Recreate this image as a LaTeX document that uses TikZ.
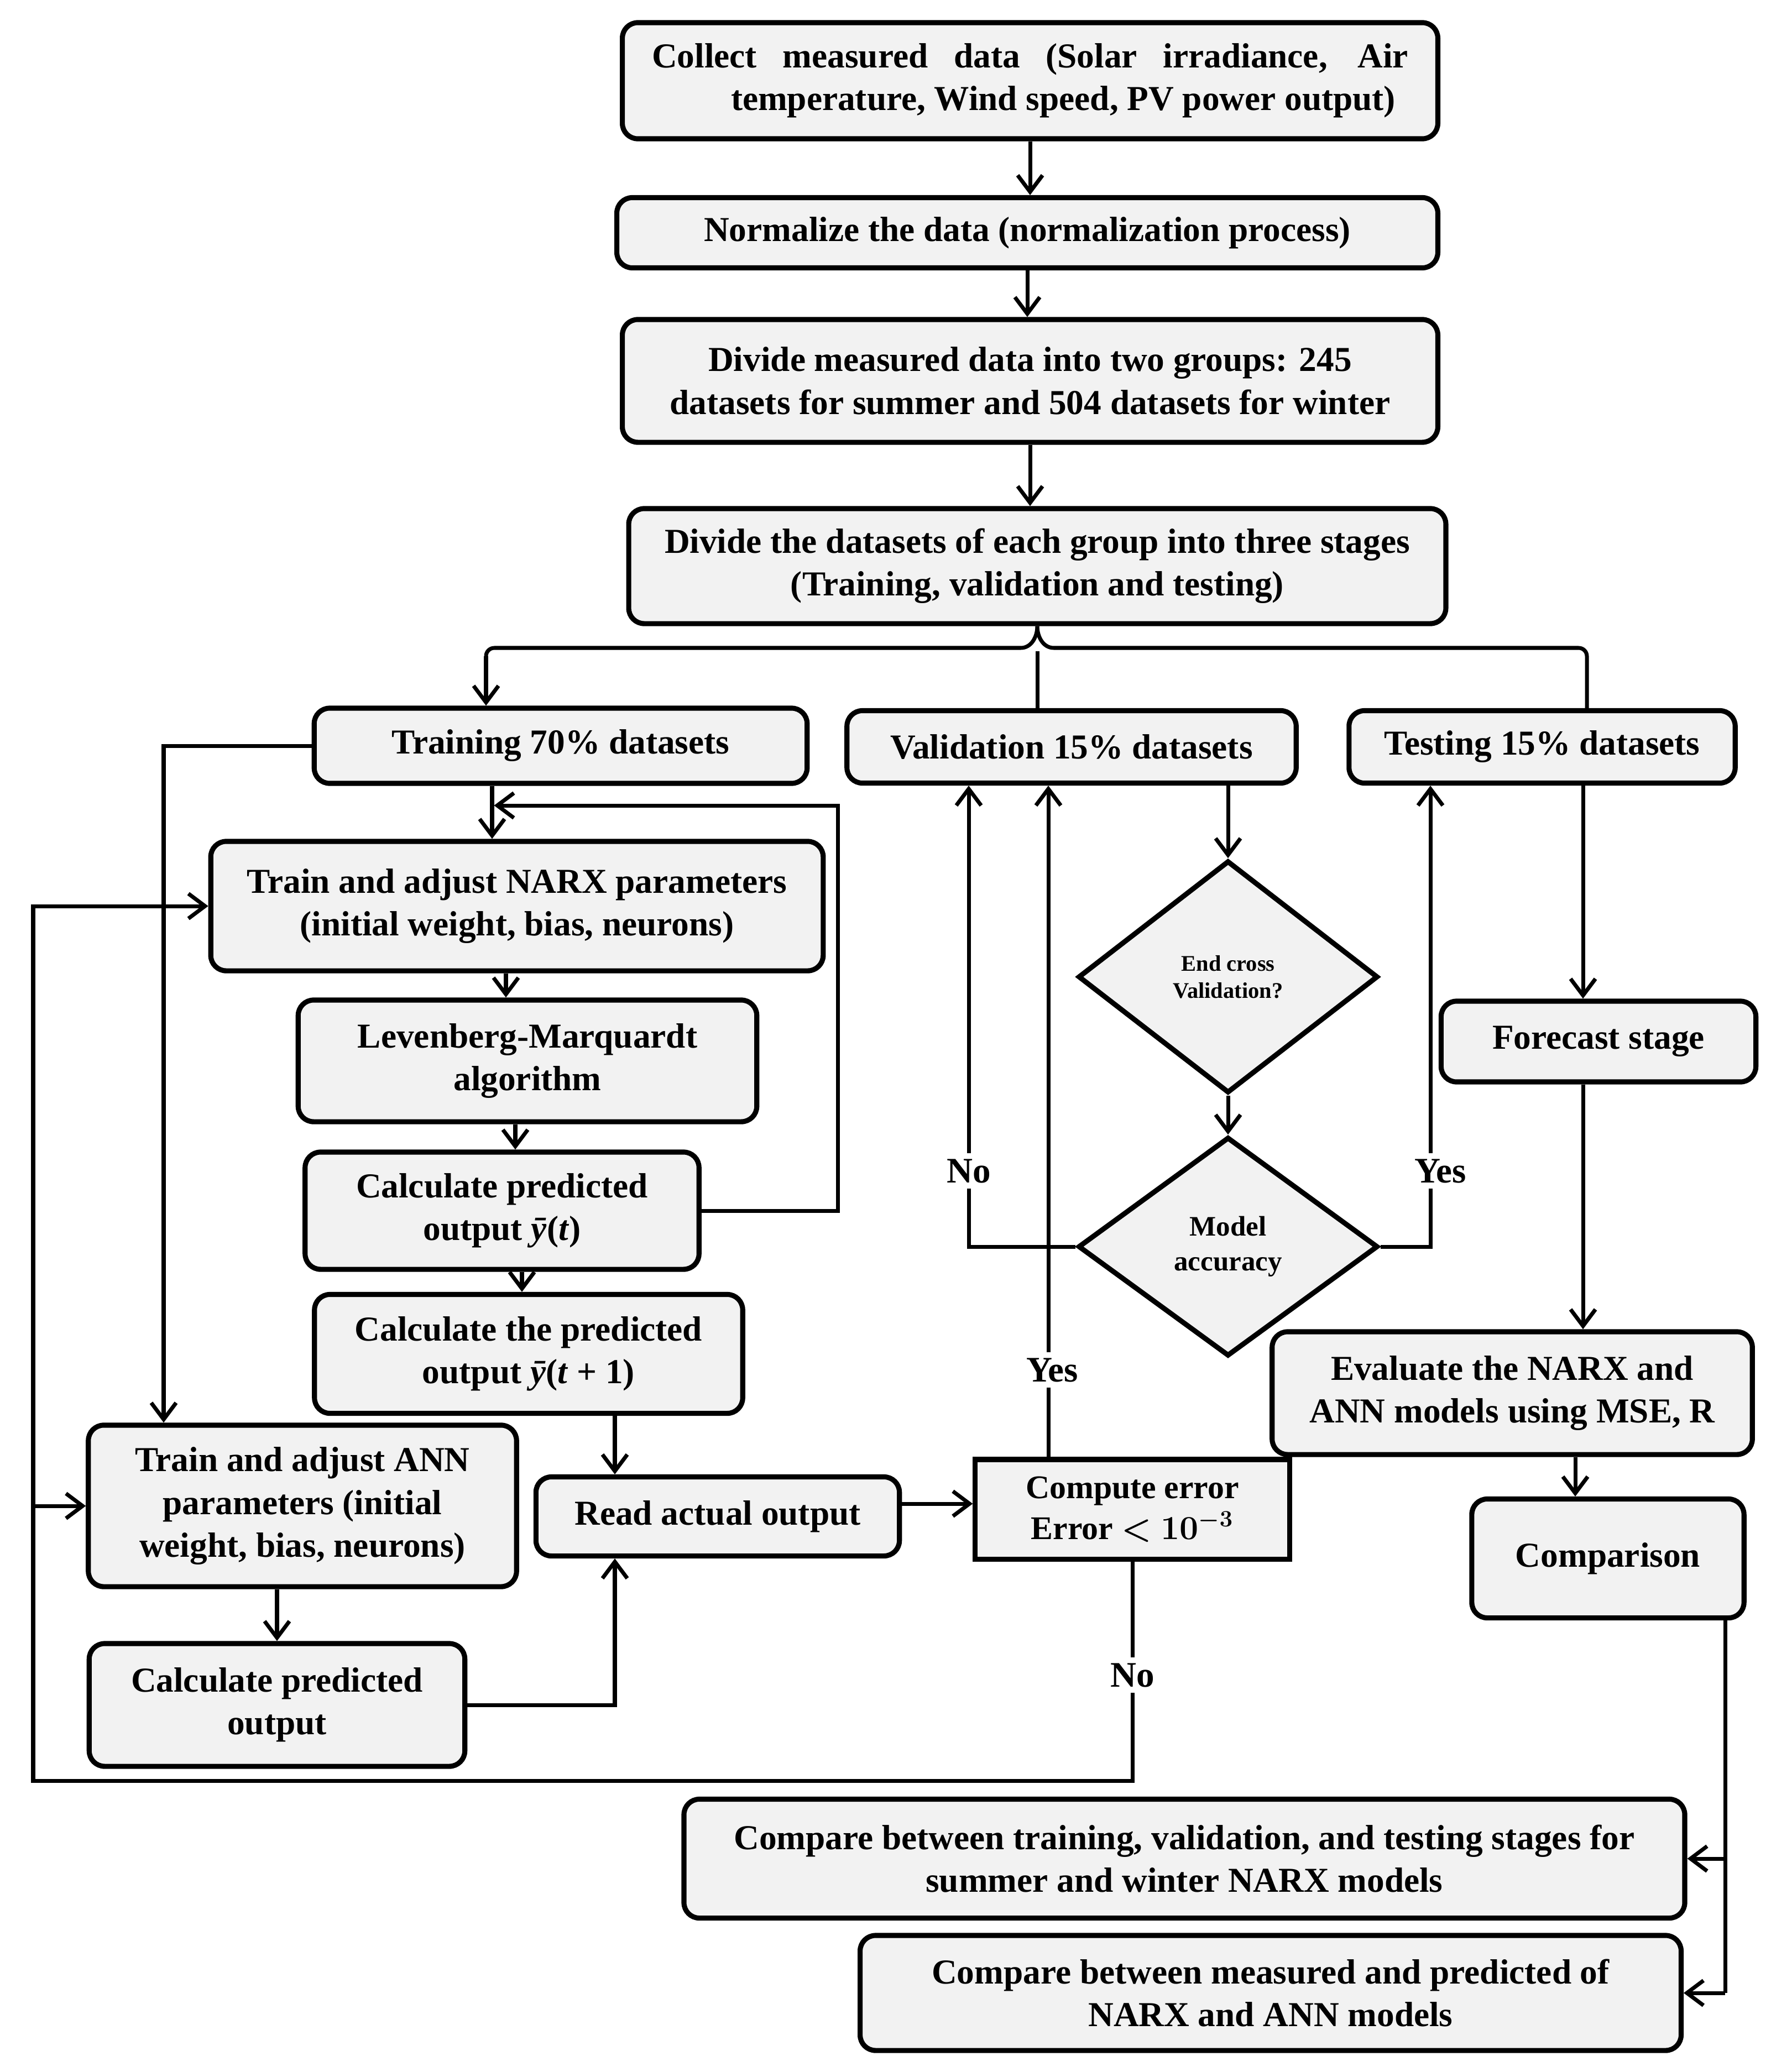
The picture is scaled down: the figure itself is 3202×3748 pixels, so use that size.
\documentclass[tikz,border=0pt]{standalone}
\usepackage{fontspec}
\setmainfont{Liberation Serif}
\usepackage{amsmath,bm}
\usetikzlibrary{shapes.geometric,arrows.meta,calc}
\definecolor{boxgray}{HTML}{F2F2F2}
\begin{document}
\begin{tikzpicture}[x=0.01cm,y=-0.01cm,
  box/.style={draw, line width=2.6pt, rounded corners=0.28cm, fill=boxgray, align=center, inner sep=2pt,
    font=\fontsize{18}{22}\selectfont\bfseries},
  sqbox/.style={box, rounded corners=0pt, font=\fontsize{17}{21}\selectfont\bfseries},
  dia/.style={draw, diamond, line width=2.6pt, fill=boxgray, align=center, inner sep=0pt},
  conn/.style={line width=2pt},
  arr/.style={conn, -{Straight Barb[length=0.3cm,width=0.45cm]}},
  lbl/.style={fill=white, inner sep=3pt, font=\fontsize{18.5}{22}\selectfont\bfseries}]
\useasboundingbox (0,0) rectangle (3202,3748);

% nodes
\node[box,minimum width=14.74cm,minimum height=2.10cm] (collect) at (1863,146)
  {\makebox[13.67cm][s]{Collect measured data (Solar irradiance, Air}\\\hspace*{1.2cm}temperature, Wind speed, PV power output)};
\node[box,minimum width=14.84cm,minimum height=1.27cm] (norm) at (1858,421) {Normalize the data (normalization process)};
\node[box,minimum width=14.74cm,minimum height=2.22cm] (divm) at (1863,689)
  {Divide measured data into two groups: 245\\datasets for summer and 504 datasets for winter};
\node[box,minimum width=14.77cm,minimum height=2.08cm] (divd) at (1876,1024)
  {Divide the datasets of each group into three stages\\(Training, validation and testing)};
\node[box,minimum width=8.91cm,minimum height=1.36cm] (train) at (1014,1349) {Training 70\% datasets};
\node[box,minimum width=8.12cm,minimum height=1.31cm] (valid) at (1938,1351) {Validation 15\% datasets};
\node[box,minimum width=6.98cm,minimum height=1.31cm] (test) at (2789,1351) {Testing 15\% datasets};
\node[box,minimum width=11.07cm,minimum height=2.34cm] (narx) at (935,1639)
  {Train and adjust NARX parameters\\(initial weight, bias, neurons)};
\node[box,minimum width=8.29cm,minimum height=2.20cm] (lm) at (954,1919) {Levenberg-Marquardt\\algorithm};
\node[box,minimum width=7.12cm,minimum height=2.12cm] (yt) at (908,2190) {Calculate predicted\\output \textit{ȳ}(\textit{t})};
\node[box,minimum width=7.74cm,minimum height=2.15cm] (yt1) at (956,2449) {Calculate the predicted\\output \textit{ȳ}(\textit{t} + 1)};
\node[box,minimum width=7.74cm,minimum height=2.92cm] (ann) at (547,2724)
  {Train and adjust ANN\\parameters (initial\\weight, bias, neurons)};
\node[box,minimum width=6.79cm,minimum height=2.22cm] (cpo) at (501,3084) {Calculate predicted\\output};
\node[box,minimum width=6.57cm,minimum height=1.43cm] (read) at (1298,2743) {Read actual output};
\node[sqbox,minimum width=5.68cm,minimum height=1.80cm] (err) at (2048,2730) {Compute error\\Error $\bm{<10^{-3}}$};
\node[dia,minimum width=5.42cm,minimum height=4.20cm,aspect=1.29,font=\fontsize{11.5}{14}\selectfont\bfseries] (endcv) at (2221,1767) {End cross\\Validation?};
\node[dia,minimum width=5.42cm,minimum height=3.96cm,aspect=1.37,font=\fontsize{14.5}{18}\selectfont\bfseries] (acc) at (2221,2255) {Model\\accuracy};
\node[box,minimum width=5.69cm,minimum height=1.46cm] (fore) at (2891,1884) {Forecast stage};
\node[box,minimum width=8.68cm,minimum height=2.22cm] (eval) at (2735,2520) {Evaluate the NARX and\\ANN models using MSE, R};
\node[box,minimum width=4.92cm,minimum height=2.15cm] (comp) at (2908,2819) {Comparison};
\node[box,minimum width=18.09cm,minimum height=2.15cm] (cmpt) at (2142,3362)
  {Compare between training, validation, and testing stages for\\summer and winter NARX models};
\node[box,minimum width=14.84cm,minimum height=2.08cm] (cmpm) at (2298,3605)
  {Compare between measured and predicted of\\NARX and ANN models};

% helper coordinates
\coordinate (bl) at (879,1187);
\coordinate (bc) at (1876,1178);
\coordinate (br) at (2870,1187);
\coordinate (xTN) at (890,0);
\coordinate (fb) at (1515,1457);
\coordinate (xNL) at (915,0);
\coordinate (xLY) at (932,0);
\coordinate (xYY) at (944,0);
\coordinate (xYR) at (1112,0);
\coordinate (yRE) at (0,2720);
\coordinate (xEV) at (1896,0);
\coordinate (xNo) at (1752,0);
\coordinate (xYes) at (2587,0);
\coordinate (xTF) at (2863,0);
\coordinate (xEC) at (2849,0);
\coordinate (xCB) at (3120,0);
\coordinate (xTL) at (296,0);
\coordinate (xL) at (60,0);
\coordinate (yB) at (0,3221);

% top chain
\draw[arr] (collect.south) -- (collect.south |- norm.north);
\draw[arr] (norm.south) -- (norm.south |- divm.north);
\draw[arr] (divm.south) -- (divm.south |- divd.north);

% brace
\draw[conn] (divd.south) to[out=-90,in=0] (1846,1172) -- (894,1172) to[out=180,in=90] (bl);
\draw[arr] (bl) -- (bl |- train.north);
\draw[conn] (bc) -- (bc |- valid.north);
\draw[conn] (divd.south) to[out=-90,in=180] (1906,1172) -- (2855,1172) to[out=0,in=90] (br) -- (br |- test.north);

% NARX chain
\draw[arr] (train.south -| xTN) -- (narx.north -| xTN);
\draw[arr, shorten >=1pt] (yt.east) -| (fb) -- (fb -| xTN);
\draw[arr] (narx.south -| xNL) -- (lm.north -| xNL);
\draw[arr] (lm.south -| xLY) -- (yt.north -| xLY);
\draw[arr] (yt.south -| xYY) -- (yt1.north -| xYY);
\draw[arr] (yt1.south -| xYR) -- (read.north -| xYR);

% ANN chain
\draw[arr] (train.west) -| (ann.north -| xTL);
\draw[arr] (ann.south -| cpo.north) -- (cpo.north);
\draw[arr] (cpo.east) -| (read.south -| xYR);
\draw[arr] (read.east |- yRE) -- (err.west |- yRE);

% error loop
\draw[arr] (err.south) -- (err.south |- yB) -| (narx.west -| xL) -- (narx.west);
\draw[arr] (ann.west -| xL) -- (ann.west);
\node[lbl] at (2048,3030) {No};
\draw[arr] (err.north -| xEV) -- (valid.south -| xEV);
\node[lbl] at (1903,2478) {Yes};

% validation
\draw[arr] (valid.south -| endcv.north) -- (endcv.north);
\draw[arr] (endcv.south) -- (acc.north);
\draw[arr] (acc.west) -| (valid.south -| xNo);
\node[lbl] at (1752,2118) {No};
\draw[arr] (acc.east) -| (test.south -| xYes);
\node[lbl] at (2605,2118) {Yes};

% testing
\draw[arr] (test.south -| xTF) -- (fore.north -| xTF);
\draw[arr] (fore.south -| xTF) -- (eval.north -| xTF);
\draw[arr] (eval.south -| xEC) -- (comp.north -| xEC);
\draw[conn] (comp.south -| xCB) -- (cmpm.east -| xCB);
\draw[arr] (cmpt.east -| xCB) -- (cmpt.east);
\draw[arr] (cmpm.east -| xCB) -- (cmpm.east);
\end{tikzpicture}
\end{document}
